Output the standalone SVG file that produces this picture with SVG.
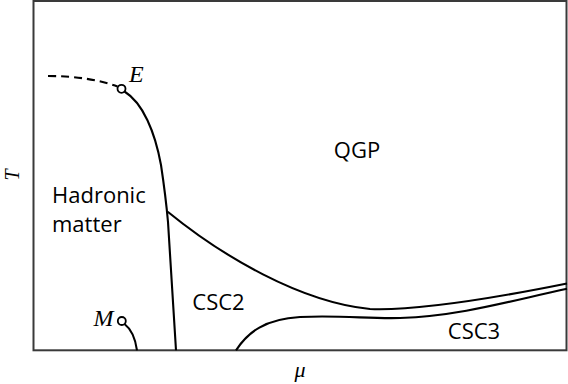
<svg xmlns="http://www.w3.org/2000/svg" width="568" height="384" viewBox="0 0 568 384">
<style>
.frame{fill:none;stroke:#3a3a3a;stroke-width:2}
.line{fill:none;stroke:#000;stroke-width:2.1;stroke-linecap:butt}
.dash{fill:none;stroke:#000;stroke-width:2.1;stroke-dasharray:8 5}
.pt{fill:#fff;stroke:#000;stroke-width:1.8}
.lbl{font-family:"Open Sans","Liberation Sans",sans-serif;font-size:22px;fill:#000}
.it{font-family:"Liberation Serif","DejaVu Serif",serif;font-style:italic;fill:#000}
</style>
<rect class="frame" x="33.5" y="1" width="533" height="349.3"/>
<g id="connectors">
<path class="dash" d="M48,76 Q88,76 117.5,86.5"/>
<path class="line" d="M124.5,91.5 C143,103 155,132 161,165 C164,185 166.5,205 168,222 L176,350.3"/>
<path class="line" d="M167.7,211.7 C222,256 300,302 370,309 C420,311 500,297 567,283.5"/>
<path class="line" d="M236,350.3 C248,332 265,319 300,317 C340,315 370,319 400,318 C460,316 510,301 567,288.8"/>
<path class="line" d="M124.5,324 C131,329 135,336 137,350.3"/>
</g>
<g id="E">
<circle class="pt" cx="121.5" cy="88.8" r="4"/>
<text class="it" x="129" y="81.5" font-size="24">E</text>
</g>
<g id="M">
<circle class="pt" cx="121.8" cy="321" r="4"/>
<text class="it" x="93.5" y="325.5" font-size="24">M</text>
</g>
<g id="QGP"><text class="lbl" x="357" y="157.5" text-anchor="middle">QGP</text></g>
<g id="hadronic"><text class="lbl" x="52" y="203">Hadronic</text><text class="lbl" x="52" y="231.5">matter</text></g>
<g id="CSC2"><text class="lbl" x="218.5" y="309.5" text-anchor="middle">CSC2</text></g>
<g id="CSC3"><text class="lbl" x="474" y="339.3" text-anchor="middle">CSC3</text></g>
<text class="it" x="300" y="377" font-size="22" text-anchor="middle">μ</text>
<text class="it" transform="translate(19,175) rotate(-90)" font-size="20" text-anchor="middle">T</text>
</svg>
